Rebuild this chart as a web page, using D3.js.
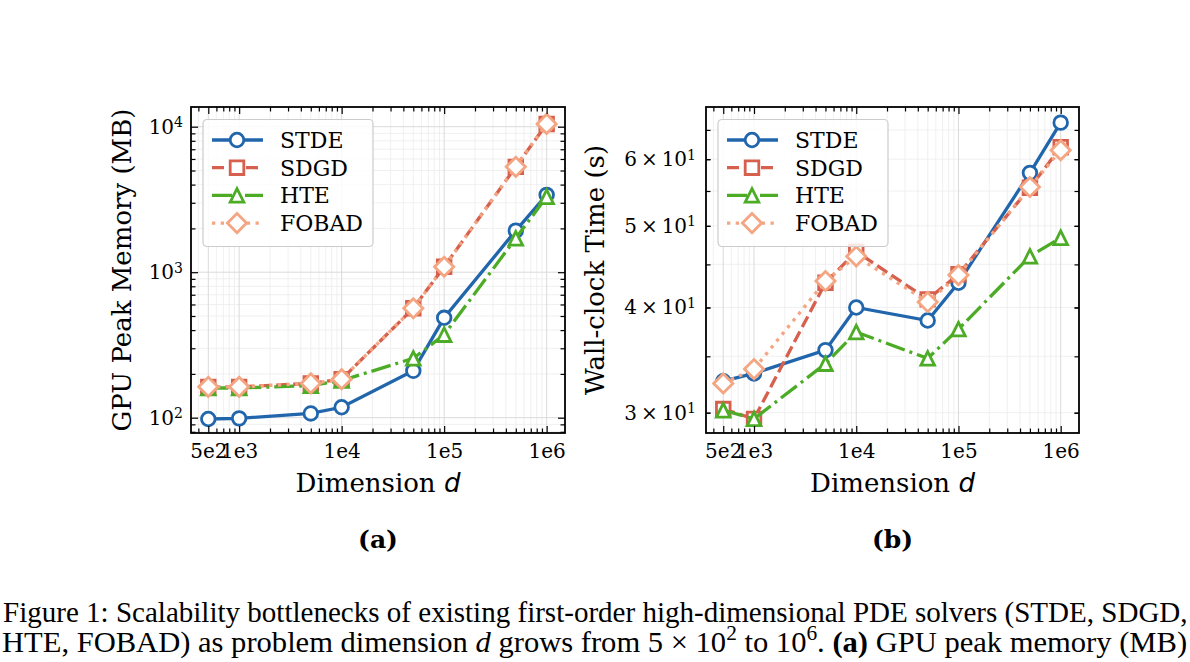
<!DOCTYPE html>
<html>
<head>
<meta charset="utf-8">
<script src="https://cdn.jsdelivr.net/npm/d3@7/dist/d3.min.js"></script>
<style>
  body { margin: 0; background: #fff; }
  svg { display: block; }
</style>
</head>
<body>
<div id="chart"></div>
<script>
// Data
var dims = [500, 1000, 5000, 10000, 50000, 100000, 500000, 1000000];
var seriesNames = ['STDE', 'SDGD', 'HTE', 'FOBAD'];

// (a) GPU peak memory (MB)
var memSTDE  = [98, 99, 107, 118, 210, 486, 1930, 3400];
var memSDGD  = [163, 163, 172, 184, 565, 1090, 5300, 10450];
var memHTE   = [160, 160, 166, 180, 256, 372, 1710, 3300];
var memFOBAD = [163, 163, 172, 184, 565, 1090, 5300, 10450];

// (b) wall-clock time (s)
var timeSTDE  = [32.7, 33.4, 35.6, 40.0, 38.6, 42.8, 57.8, 66.3];
var timeSDGD  = [30.3, 29.5, 42.8, 46.6, 40.9, 43.8, 55.5, 62.0];
var timeHTE   = [30.2, 29.5, 34.3, 37.4, 34.8, 37.7, 46.0, 48.4];
var timeFOBAD = [32.5, 33.8, 43.0, 46.0, 40.6, 43.7, 55.6, 61.5];

// tick labels
var xTickValues = [500, 1000, 10000, 100000, 1000000];
var xTickLabels = ['5e2', '1e3', '1e4', '1e5', '1e6'];
var memTickValues = [100, 1000, 10000];
var memTickExps = ['2', '3', '4'];
var timeTickValues = [30, 40, 50, 60];
var timeTickMants = ['3', '4', '5', '6'];

// styles
var colors = {STDE: '#2166ac', SDGD: '#d6604d', HTE: '#4dac26', FOBAD: '#f4a582'};
var dashes = {STDE: null, SDGD: '12,5', HTE: '20,5,3,5', FOBAD: '3.3,5.4'};
var markers = {
  STDE: 'circle',
  SDGD: 'square',
  HTE: 'triangle',
  FOBAD: 'diamond'
};
var serif = '"DejaVu Serif", serif';
var xDomain = [339, 1.51e6];

var svg = d3.select('#chart').append('svg')
  .attr('width', 1190).attr('height', 662);

function markerPath(type) {
  var s = 6.8, dd = 9.6;
  if (type === 'circle') return d3.arc()({innerRadius: 0, outerRadius: s, startAngle: 0, endAngle: 2 * Math.PI});
  if (type === 'square') return 'M' + (-s) + ',' + (-s) + 'H' + s + 'V' + s + 'H' + (-s) + 'Z';
  if (type === 'triangle') return 'M0,' + (-s) + 'L' + s + ',' + s + 'L' + (-s) + ',' + s + 'Z';
  return 'M0,' + (-dd) + 'L' + dd + ',0L0,' + dd + 'L' + (-dd) + ',0Z';
}

function drawPanel(p) {
  var w = p.right - p.left, h = p.bottom - p.top;
  var x = d3.scaleLog().domain(xDomain).range([0, w]);
  var y = d3.scaleLog().domain(p.yDomain).range([h, 0]);

  var g = svg.append('g').attr('transform', 'translate(' + p.left + ',' + p.top + ')');

  var xMinor = x.ticks().filter(function(v) { return xTickValues.indexOf(v) < 0; });
  var yMinor = y.ticks().filter(function(v) { return p.yMajor.indexOf(v) < 0; });

  // grid
  var grid = g.append('g');
  grid.selectAll('.gxm').data(xMinor).join('line')
    .attr('x1', x).attr('x2', x).attr('y1', 0).attr('y2', h)
    .attr('stroke', '#ececec').attr('stroke-width', 0.8);
  grid.selectAll('.gym').data(yMinor).join('line')
    .attr('y1', y).attr('y2', y).attr('x1', 0).attr('x2', w)
    .attr('stroke', '#ececec').attr('stroke-width', 0.8);
  grid.selectAll('.gx').data(xTickValues).join('line')
    .attr('x1', x).attr('x2', x).attr('y1', 0).attr('y2', h)
    .attr('stroke', '#dadada').attr('stroke-width', 1);
  grid.selectAll('.gy').data(p.yMajor).join('line')
    .attr('y1', y).attr('y2', y).attr('x1', 0).attr('x2', w)
    .attr('stroke', '#dadada').attr('stroke-width', 1);

  // series
  seriesNames.forEach(function(name, si) {
    var vals = p.series[si];
    var pts = dims.map(function(d, i) { return [x(d), y(vals[i])]; });
    var sg = g.append('g');
    sg.append('path')
      .attr('d', d3.line()(pts))
      .attr('fill', 'none')
      .attr('stroke', colors[name])
      .attr('stroke-width', 3.3)
      .attr('stroke-dasharray', dashes[name]);
    sg.selectAll('.m').data(pts).join('path')
      .attr('d', markerPath(markers[name]))
      .attr('transform', function(d) { return 'translate(' + d[0] + ',' + d[1] + ')'; })
      .attr('fill', '#fff')
      .attr('stroke', colors[name])
      .attr('stroke-width', 2.8);
  });

  // ticks (inward, all four sides)
  function styleAxis(sel) {
    sel.select('.domain').remove();
    sel.selectAll('.tick line').attr('stroke', '#000').attr('stroke-width', 1.2);
    sel.attr('font-family', serif).attr('font-size', 20);
  }
  g.append('g').attr('transform', 'translate(0,' + h + ')')
    .call(d3.axisBottom(x).tickValues(xTickValues)
      .tickFormat(function(d, i) { return xTickLabels[i]; })
      .tickSize(-7).tickPadding(11))
    .call(styleAxis);
  g.append('g').attr('transform', 'translate(0,' + h + ')')
    .call(d3.axisBottom(x).tickValues(xMinor).tickFormat('').tickSize(-4.5))
    .call(styleAxis);
  g.append('g')
    .call(d3.axisTop(x).tickValues(xTickValues).tickFormat('').tickSize(-7))
    .call(styleAxis);
  g.append('g')
    .call(d3.axisTop(x).tickValues(xMinor).tickFormat('').tickSize(-4.5))
    .call(styleAxis);

  var yl = g.append('g')
    .call(d3.axisLeft(y).tickValues(p.yLabelled).tickFormat('')
      .tickSize(-p.yLabelledSize).tickPadding(p.yPad))
    .call(styleAxis);
  yl.selectAll('.tick text').each(function(d, i) {
    var t = d3.select(this);
    t.text(p.yLabelPre[i]);
    t.append('tspan').attr('dy', '-0.45em').attr('font-size', 14).text(p.yLabelExp[i]);
  });
  g.append('g')
    .call(d3.axisLeft(y).tickValues(yMinor).tickFormat('').tickSize(-4.5))
    .call(styleAxis);
  g.append('g').attr('transform', 'translate(' + w + ',0)')
    .call(d3.axisRight(y).tickValues(p.yLabelled).tickFormat('').tickSize(-p.yLabelledSize))
    .call(styleAxis);
  g.append('g').attr('transform', 'translate(' + w + ',0)')
    .call(d3.axisRight(y).tickValues(yMinor).tickFormat('').tickSize(-4.5))
    .call(styleAxis);

  // frame
  g.append('rect').attr('width', w).attr('height', h)
    .attr('fill', 'none').attr('stroke', '#000').attr('stroke-width', 1.8);

  // legend
  var lg = g.append('g').attr('transform', 'translate(12,12.5)');
  lg.append('rect').attr('width', 170).attr('height', 127).attr('rx', 4)
    .attr('fill', '#fff').attr('fill-opacity', 0.85)
    .attr('stroke', '#cccccc').attr('stroke-width', 1.2);
  var rows = lg.selectAll('.row').data(seriesNames).join('g')
    .attr('transform', function(d, i) { return 'translate(0,' + (20.5 + i * 27.7) + ')'; });
  rows.append('line').attr('x1', 9).attr('x2', 60)
    .attr('stroke', function(d) { return colors[d]; })
    .attr('stroke-width', 3.3)
    .attr('stroke-dasharray', function(d) { return dashes[d]; });
  rows.append('path').attr('transform', 'translate(34,0)')
    .attr('d', function(d) { return markerPath(markers[d]); })
    .attr('fill', '#fff')
    .attr('stroke', function(d) { return colors[d]; })
    .attr('stroke-width', 2.8);
  rows.append('text').attr('x', 77).attr('dy', '0.36em')
    .attr('font-family', serif).attr('font-size', 22)
    .text(function(d) { return d; });

  // axis labels
  var xl = g.append('text').attr('x', w / 2).attr('y', h + 59)
    .attr('text-anchor', 'middle').attr('font-family', serif).attr('font-size', 26)
    .text('Dimension ');
  xl.append('tspan').attr('font-family', '"DejaVu Sans", sans-serif')
    .attr('font-style', 'italic').text('d');

  g.append('text')
    .attr('transform', 'translate(' + p.yLabelX + ',' + (h / 2) + ') rotate(-90)')
    .attr('text-anchor', 'middle').attr('font-family', serif).attr('font-size', 26)
    .text(p.yLabel);

  g.append('text').attr('x', w / 2).attr('y', h + 115)
    .attr('text-anchor', 'middle').attr('font-family', serif)
    .attr('font-weight', 'bold').attr('font-size', 25)
    .text(p.title);
}

drawPanel({
  id: 'a', left: 191, right: 565, top: 107, bottom: 433,
  yDomain: [78.5, 13660],
  yMajor: memTickValues,
  yLabelled: memTickValues, yLabelledSize: 7, yPad: 8,
  yLabelPre: memTickValues.map(function() { return '10'; }),
  yLabelExp: memTickExps,
  series: [memSTDE, memSDGD, memHTE, memFOBAD],
  yLabel: 'GPU Peak Memory (MB)', yLabelX: -60,
  title: '(a)'
});

drawPanel({
  id: 'b', left: 706, right: 1079, top: 107, bottom: 433,
  yDomain: [28.38, 69.2],
  yMajor: [],
  yLabelled: timeTickValues, yLabelledSize: 4.5, yPad: 10,
  yLabelPre: timeTickMants.map(function(m) { return m + '\u2009\u00d7\u200910'; }),
  yLabelExp: timeTickValues.map(function() { return '1'; }),
  series: [timeSTDE, timeSDGD, timeHTE, timeFOBAD],
  yLabel: 'Wall-clock Time (s)', yLabelX: -102,
  title: '(b)'
});

// caption
var capFont = '"Liberation Serif", "Times New Roman", serif';
function captionLine(x0, y0, target, parts) {
  var t = svg.append('text').attr('font-family', capFont).attr('font-size', 30);
  parts.forEach(function(pt) {
    var s = t.append('tspan').text(pt.t);
    if (pt.i) s.attr('font-style', 'italic');
    if (pt.b) s.attr('font-weight', 'bold');
    if (pt.sup) s.attr('font-size', 21).attr('dy', -12);
    if (pt.down) s.attr('dy', 12);
  });
  var bw = t.node().getBBox().width;
  t.attr('transform', 'translate(' + x0 + ',' + y0 + ') scale(' + (target / bw) + ',1)');
}
captionLine(3, 622, 1185, [
  {t: 'Figure 1: Scalability bottlenecks of existing first-order high-dimensional PDE solvers (STDE, SDGD,'}
]);
captionLine(2, 652, 1186, [
  {t: 'HTE, FOBAD) as problem dimension '},
  {t: 'd', i: true},
  {t: ' grows from 5 \u00d7 10'},
  {t: '2', sup: true},
  {t: ' to 10', down: true},
  {t: '6', sup: true},
  {t: '. ', down: true},
  {t: '(a)', b: true},
  {t: ' GPU peak memory (MB)'}
]);
</script>
</body>
</html>
